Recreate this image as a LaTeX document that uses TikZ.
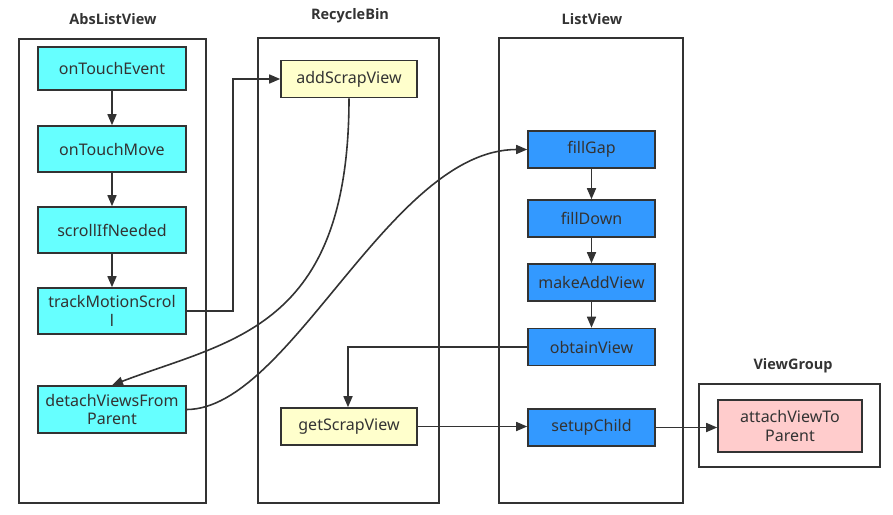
\documentclass[tikz,border=0pt]{standalone}
\usepackage{fontspec}
\setmainfont{Noto Sans}
\newfontfamily\titlefont{Open Sans}
\usetikzlibrary{arrows.meta}
\definecolor{ln}{HTML}{333333}
\definecolor{cyanbox}{HTML}{66FFFF}
\definecolor{yelbox}{HTML}{FFFFCC}
\definecolor{bluebox}{HTML}{3399FF}
\definecolor{pinkbox}{HTML}{FFCCCC}
\tikzset{
  container/.style={draw=ln, line width=1.6pt, inner sep=0pt},
  title/.style={font=\titlefont\bfseries\fontsize{14.5}{17}\selectfont, text=ln, inner sep=0pt},
  fbox/.style={draw=ln, line width=1.6pt, inner sep=0pt, align=center, text=ln,
    font=\fontsize{16}{18.5}\selectfont},
  cybox/.style={fbox, fill=cyanbox, minimum width=148pt},
  ybox/.style={fbox, fill=yelbox, minimum width=136pt, minimum height=37pt},
  bbox/.style={fbox, fill=bluebox, minimum width=127pt, minimum height=37pt},
  conn/.style={draw=ln, line width=1.6pt, -{Triangle[length=11pt,width=9pt]}},
}
\begin{document}
\begin{tikzpicture}[x=1pt,y=-1pt]
\useasboundingbox (0,0) rectangle (893,514);
% containers
\node[container, minimum width=187pt, minimum height=464pt] (cabs) at (112.5,271) {};
\node[container, minimum width=181pt, minimum height=465pt] (crb) at (348.5,270.5) {};
\node[container, minimum width=184pt, minimum height=465pt] (clv) at (591,270.5) {};
\node[container, minimum width=181pt, minimum height=83pt] (cvg) at (789.5,425.5) {};
% titles
\node[title] (tabs) at (113,19) {AbsListView};
\node[title] (trb) at (350,16) {RecycleBin};
\node[title] (tlv) at (592,19) {ListView};
\node[title] (tvg) at (793,366) {ViewGroup};
% AbsListView nodes
\node[cybox, minimum height=43pt] (ote) at (112,68.5) {onTouchEvent};
\node[cybox, minimum height=46pt] (otm) at (112,149) {onTouchMove};
\node[cybox, minimum height=46pt] (sin) at (112,230) {scrollIfNeeded};
\node[cybox, minimum height=46pt] (tms) at (112,311) {trackMotionScrol\\l};
\node[cybox, minimum height=47pt] (dvp) at (112,409.5) {detachViewsFrom\\Parent};
% RecycleBin nodes
\node[ybox] (asv) at (349,79) {addScrapView};
\node[ybox] (gsv) at (349,426.5) {getScrapView};
% ListView nodes
\node[bbox] (fg) at (591.5,149.5) {fillGap};
\node[bbox] (fd) at (591.5,218.5) {fillDown};
\node[bbox] (mav) at (591.5,282.5) {makeAddView};
\node[bbox] (ov) at (591.5,347) {obtainView};
\node[bbox] (sc) at (591.5,427.5) {setupChild};
% ViewGroup node
\node[fbox, fill=pinkbox, minimum width=144pt, minimum height=52pt] (avp) at (790,426) {attachViewTo\\Parent};
% connectors
\draw[conn] (ote) -- (otm);
\draw[conn] (otm) -- (sin);
\draw[conn] (sin) -- (tms);
\coordinate (k1) at (233,311);
\coordinate (k2) at (233,79);
\draw[conn] (tms.east) -- (k1) -- (k2) -- (asv.west);
\draw[conn] (asv.south) .. controls (349,330) and (230,340) .. (dvp.north);
\draw[conn] (dvp.east) .. controls (290,409) and (390,149.5) .. (fg.west);
\draw[conn] (fg) -- (fd);
\draw[conn] (fd) -- (mav);
\draw[conn] (mav) -- (ov);
\coordinate (k3) at (348,347);
\draw[conn] (ov.west) -- (k3) -- (gsv.north -| k3);
\draw[conn] (gsv.east) -- (sc.west |- gsv.east);
\draw[conn] (sc.east) -- (avp.west |- sc.east);
\end{tikzpicture}
\end{document}
